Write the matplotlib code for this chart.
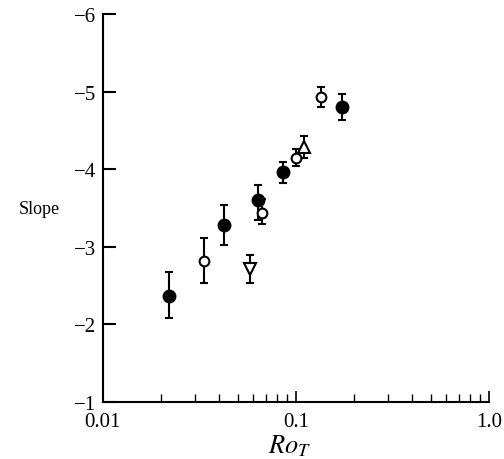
import matplotlib
matplotlib.use("Agg")
import matplotlib.pyplot as plt
from matplotlib.ticker import LogLocator, NullFormatter, FixedLocator

plt.rcParams['font.family'] = ['Liberation Serif', 'DejaVu Serif']
plt.rcParams['mathtext.fontset'] = 'stix'

# Filled circles
fc_x = [0.0219, 0.0425, 0.064, 0.0863, 0.174]
fc_y = [-2.36, -3.28, -3.60, -3.96, -4.80]
fc_lo = [-2.05, -3.02, -3.40, -3.82, -4.63]
fc_hi = [-2.64, -3.54, -3.85, -4.10, -4.96]

# Open circles
oc_x = [0.0336, 0.0671, 0.100, 0.135]
oc_y = [-2.82, -3.44, -4.14, -4.93]
oc_lo = [-2.53, -3.26, -4.02, -4.80]
oc_hi = [-3.11, -3.59, -4.24, -5.06]

# Open down triangle
dt_x = [0.0577]
dt_y = [-2.71]
dt_lo = [-2.52]
dt_hi = [-2.885]

# Open up triangle
ut_x = [0.110]
ut_y = [-4.29]
ut_lo = [-4.15]
ut_hi = [-4.44]

fig = plt.figure(figsize=(5.04, 4.6), dpi=100)
ax = fig.add_axes([0.204, 0.124, 0.766, 0.843])

def plot_series(x, y, lo, hi, marker, face, ms):
    yerr = [[abs(yy - l) for yy, l in zip(y, lo)], [abs(h - yy) for yy, h in zip(y, hi)]]
    ax.errorbar(x, y, yerr=yerr, fmt='none', ecolor='black', elinewidth=1.5,
                capsize=3.2, capthick=1.5, zorder=2)
    ax.plot(x, y, linestyle='none', marker=marker, markersize=ms,
            markerfacecolor=face, markeredgecolor='black', markeredgewidth=1.5, zorder=3)

plot_series(fc_x, fc_y, fc_lo, fc_hi, 'o', 'black', 8.5)
plot_series(oc_x, oc_y, oc_lo, oc_hi, 'o', 'white', 7)
plot_series(dt_x, dt_y, dt_lo, dt_hi, 'v', 'white', 8)
plot_series(ut_x, ut_y, ut_lo, ut_hi, '^', 'white', 8)

ax.set_xscale('log')
ax.set_xlim(0.01, 1.0)
ax.set_ylim(-1, -6)

ax.xaxis.set_major_locator(FixedLocator([0.01, 0.1, 1.0]))
ax.set_xticklabels(['0.01', '0.1', '1.0'])
ax.xaxis.set_minor_locator(LogLocator(base=10, subs=[2, 3, 4, 5, 6, 7, 8, 9]))
ax.xaxis.set_minor_formatter(NullFormatter())
ax.set_yticks([-1, -2, -3, -4, -5, -6])
ax.set_yticklabels(['\u22121', '\u22122', '\u22123', '\u22124', '\u22125', '\u22126'])

for s in ['top', 'right']:
    ax.spines[s].set_visible(False)
for s in ['left', 'bottom']:
    ax.spines[s].set_linewidth(1.5)

ax.tick_params(axis='x', which='major', direction='in', length=8, width=1.2, labelsize=15, pad=7)
ax.tick_params(axis='x', which='minor', direction='in', length=6, width=1.0)
ax.tick_params(axis='y', which='major', direction='in', length=9, width=1.5, labelsize=15, pad=5)

ax.set_xlabel(r'$Ro_T$', fontsize=19)
ax.xaxis.set_label_coords(0.485, -0.079, transform=ax.transAxes)
ax.xaxis.label.set_va('top')
ax.set_ylabel('Slope', fontsize=13, rotation=0, va='center')
ax.yaxis.set_label_coords(-0.165, 0.5)

fig.savefig('out.png', dpi=100)
